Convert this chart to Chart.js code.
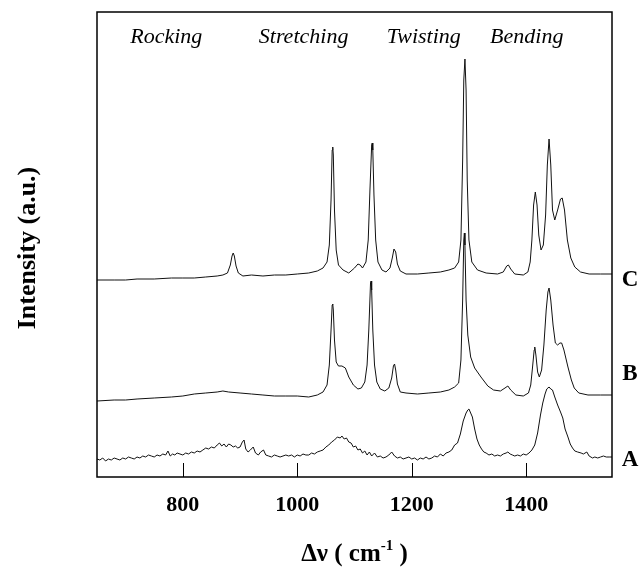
<!DOCTYPE html>
<html>
<head>
<meta charset="utf-8">
<script src="https://cdn.jsdelivr.net/npm/chart.js@4.4.1/dist/chart.umd.min.js"></script>
<style>
  html, body { margin: 0; padding: 0; background: #fff; }
  #wrap { width: 641px; height: 568px; }
</style>
</head>
<body>
<div id="wrap"><canvas id="ramanChart" width="641" height="568"></canvas></div>
<script>
// Raman shift (cm-1) and intensity (a.u.), offset as in the original
var waveA = [650,655,660,665,670,675,680,685,690,695,700,705,710,715,720,725,730,735,740,745,
  750,755,760,765,770,774,778,782,786,790,795,800,805,810,815,820,825,830,835,840,
  845,850,855,860,864,868,872,876,880,884,888,892,896,900,904,907,910,914,918,923,
  927,932,936,941,945,950,955,960,965,970,975,980,985,990,995,1000,1005,1010,1015,1020,
  1025,1030,1035,1040,1045,1050,1055,1060,1065,1070,1075,1078,1082,1086,1090,1094,1098,1102,1106,1110,
  1114,1118,1122,1126,1130,1135,1140,1145,1150,1155,1160,1165,1170,1175,1180,1185,1190,1195,1200,1205,
  1210,1215,1220,1225,1230,1235,1240,1245,1250,1255,1260,1265,1270,1275,1280,1285,1290,1295,1298,1300,
  1303,1306,1310,1314,1318,1322,1326,1330,1335,1340,1345,1350,1355,1360,1365,1368,1372,1376,1380,1385,
  1390,1395,1400,1405,1410,1415,1420,1425,1429,1433,1436,1440,1443,1446,1450,1455,1460,1464,1468,1473,
  1477,1481,1485,1490,1496,1500,1506,1510,1516,1520,1525,1530,1535,1540,1545,1550];
var intA = [18,17,19,16,18,17,19,18,17,19,18,20,19,18,20,19,21,20,22,21,
  20,22,21,23,22,26,21,23,22,24,23,22,24,23,25,24,26,25,27,29,
  28,30,29,32,34,31,33,30,33,32,30,31,29,30,35,37,28,25,27,30,
  24,22,25,27,22,21,20,22,21,20,21,22,21,22,20,22,21,23,22,22,
  24,23,25,26,27,30,32,35,37,40,39,41,38,39,35,34,30,31,27,28,
  24,26,22,25,21,24,20,21,19,20,22,25,21,19,20,18,19,20,18,19,
  17,19,18,20,18,19,21,20,23,21,24,25,27,32,34,43,56,64,67,68,
  64,60,48,38,32,28,25,24,22,23,21,22,21,23,24,25,23,22,21,22,
  21,23,22,24,27,32,44,62,74,83,88,90,88,87,80,72,65,59,48,40,
  33,29,26,25,24,23,25,21,19,20,19,20,21,20,20,20];

var waveB = [650,680,700,720,750,780,800,820,840,860,870,880,900,920,940,960,980,1000,1020,1035,
  1045,1052,1056,1059,1061,1062,1063,1065,1068,1072,1078,1084,1090,1098,1106,1112,1118,1122,1125,1128,
  1129,1130,1132,1135,1139,1145,1153,1160,1165,1168,1170,1172,1175,1180,1190,1210,1230,1250,1265,1275,
  1282,1286,1289,1291,1292,1293,1295,1298,1303,1310,1321,1333,1343,1355,1363,1368,1373,1382,1395,1404,
  1408,1411,1414,1415,1417,1420,1423,1427,1431,1435,1438,1440,1443,1447,1451,1455,1459,1462,1466,1473,
  1479,1484,1492,1508,1530,1550];
var intB = [76,77,77,78,79,80,81,83,84,85,86,85,84,83,82,81,81,81,80,82,
  85,92,112,147,172,173,167,137,115,111,111,109,100,92,88,89,95,112,147,194,
  196,187,147,112,95,88,86,89,99,111,113,107,93,85,84,83,84,85,87,90,
  94,117,177,237,244,232,177,142,120,109,100,91,87,86,89,91,87,82,81,84,
  92,109,127,130,122,105,100,107,132,167,185,189,177,152,134,132,134,134,127,110,
  97,89,84,82,82,82];

var waveC = [650,680,700,720,750,780,800,820,840,860,870,878,883,886,888,890,893,897,905,920,
  940,960,980,1000,1020,1035,1045,1052,1056,1059,1061,1062,1063,1065,1068,1072,1080,1090,1100,1106,
  1110,1114,1120,1124,1127,1130,1131,1132,1134,1137,1141,1148,1155,1162,1166,1169,1172,1175,1180,1190,
  1210,1230,1250,1265,1275,1282,1286,1289,1291,1293,1295,1297,1300,1305,1315,1330,1350,1360,1366,1369,
  1373,1380,1395,1403,1407,1410,1413,1416,1419,1422,1426,1430,1434,1437,1440,1443,1446,1450,1455,1460,
  1463,1467,1472,1478,1485,1495,1510,1530,1550];
var intC = [197,197,197,198,198,199,199,199,200,201,202,204,212,221,224,221,211,204,201,202,
  201,202,202,203,204,206,209,215,232,277,327,330,322,267,227,212,207,204,209,213,
  212,209,215,237,287,332,334,327,282,237,215,207,205,209,219,228,225,213,206,203,
  203,204,205,207,209,215,237,317,397,418,387,297,237,215,207,204,203,205,211,212,
  208,203,202,205,215,237,272,285,272,242,227,232,262,312,338,312,267,257,267,278,
  279,267,237,219,210,205,203,203,203];

var xTicks = [800, 1000, 1200, 1400];
var bandNames = ["Rocking", "Stretching", "Twisting", "Bending"];
var bandPos = [771, 1011, 1221, 1401];
var traceNames = ["C", "B", "A"];
var tracePos = [197, 103, 17];

function pts(w, v) {
  return w.map(function (x, i) { return { x: x, y: v[i] }; });
}

// frame, inward ticks and all the text around the plot
var decor = {
  id: "decor",
  afterDraw: function (chart) {
    var c = chart.ctx, a = chart.chartArea, sx = chart.scales.x, sy = chart.scales.y;
    c.save();
    c.strokeStyle = "#000";
    c.lineWidth = 1.5;
    c.strokeRect(a.left, a.top, a.right - a.left, a.bottom - a.top);
    c.lineWidth = 1;
    xTicks.forEach(function (t) {
      var px = Math.round(sx.getPixelForValue(t)) + 0.5;
      c.beginPath();
      c.moveTo(px, a.bottom);
      c.lineTo(px, a.bottom - 14);
      c.stroke();
    });
    c.fillStyle = "#000";
    c.textAlign = "center";
    c.textBaseline = "middle";
    c.font = "italic 22px 'Liberation Serif'";
    bandNames.forEach(function (n, i) {
      c.fillText(n, sx.getPixelForValue(bandPos[i]), a.top + 25);
    });
    c.font = "bold 23px 'Liberation Serif'";
    traceNames.forEach(function (n, i) {
      c.fillText(n, a.right + 18, sy.getPixelForValue(tracePos[i]));
    });
    // x title with superscript
    var y0 = 555, big = "bold 25px 'Liberation Serif'", small = "bold 15px 'Liberation Serif'";
    var p1 = "\u0394\u03bd ( cm", p2 = "-1", p3 = " )";
    c.font = big; var w1 = c.measureText(p1).width, w3 = c.measureText(p3).width;
    c.font = small; var w2 = c.measureText(p2).width;
    var x0 = (a.left + a.right) / 2 - (w1 + w2 + w3) / 2;
    c.textAlign = "left";
    c.font = big; c.fillText(p1, x0, y0);
    c.font = small; c.fillText(p2, x0 + w1, y0 - 9);
    c.font = big; c.fillText(p3, x0 + w1 + w2, y0);
    // y title
    c.translate(28, 248);
    c.rotate(-Math.PI / 2);
    c.textAlign = "center";
    c.font = "bold 26px 'Liberation Serif'";
    c.fillText("Intensity (a.u.)", 0, 0);
    c.restore();
  }
};

var ctx = document.getElementById("ramanChart");
var ramanChart = new Chart(ctx, {
  type: "line",
  data: {
    datasets: [
      { label: "A", data: pts(waveA, intA) },
      { label: "B", data: pts(waveB, intB) },
      { label: "C", data: pts(waveC, intC) }
    ]
  },
  options: {
    responsive: false,
    animation: false,
    parsing: false,
    layout: { padding: { left: 97, right: 29, top: 12, bottom: 0 } },
    elements: {
      line: { borderColor: "#111", borderWidth: 1, tension: 0 },
      point: { radius: 0 }
    },
    plugins: { legend: { display: false }, tooltip: { enabled: false } },
    scales: {
      x: {
        type: "linear",
        min: 650,
        max: 1550,
        afterBuildTicks: function (s) { s.ticks = xTicks.map(function (v) { return { value: v }; }); },
        afterFit: function (s) { s.height = 91; },
        grid: { display: false },
        border: { display: false },
        ticks: {
          color: "#000",
          padding: 7,
          maxRotation: 0,
          autoSkip: false,
          font: { family: "Liberation Serif", size: 22, weight: "bold" },
          callback: function (value) { return String(value); }
        }
      },
      y: { display: false, min: 0, max: 465 }
    }
  },
  plugins: [decor]
});
</script>
</body>
</html>
